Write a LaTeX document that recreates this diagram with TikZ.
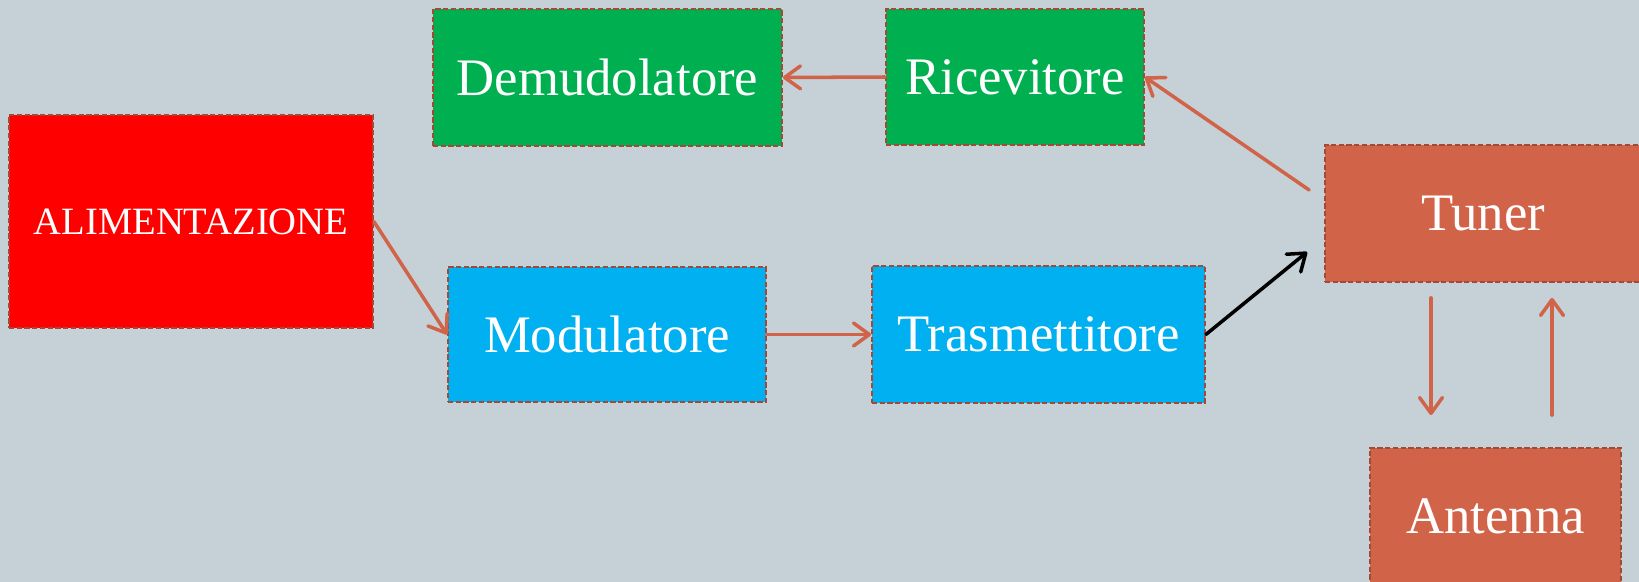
\documentclass[tikz,border=0pt]{standalone}
\usepackage{fontspec}
\setmainfont{Liberation Serif}
\usetikzlibrary{arrows.meta}
\definecolor{sfondo}{HTML}{C5D1D7}
\definecolor{verde}{HTML}{00B050}
\definecolor{azzurro}{HTML}{00B0F0}
\definecolor{rosso}{HTML}{FF0000}
\definecolor{mattone}{HTML}{D16349}
\definecolor{bordo}{HTML}{A34A37}
\begin{document}
\begin{tikzpicture}[
						boxnode/.style={rectangle, draw=bordo, line width=1pt, dash pattern=on 3pt off 1.4pt, text=white, inner sep=0pt, font=\fontsize{30}{36}\selectfont},
						arr/.style={draw=mattone, line width=2pt, line cap=round, -{Straight Barb[length=9pt,width=13pt,line width=2pt,round]}},
						]
						\fill[sfondo] (0,0) rectangle (32.78,-11.64);
						\useasboundingbox (0,0) rectangle (32.78,-11.64);
						%Nodes
						\node[boxnode, fill=rosso, minimum width=7.28cm, minimum height=4.26cm, font=\fontsize{22}{26}\selectfont]	(alim)	at	(3.82,-4.43)	{ALIMENTAZIONE};
						\node[boxnode, fill=verde, minimum width=6.98cm, minimum height=2.74cm]	(demod)	at	(12.15,-1.55)	{Demudolatore};
						\node[boxnode, fill=verde, minimum width=5.16cm, minimum height=2.72cm]	(ricev)	at	(20.30,-1.54)	{Ricevitore};
						\node[boxnode, fill=azzurro, minimum width=6.36cm, minimum height=2.70cm]	(modul)	at	(12.14,-6.69)	{Modulatore};
						\node[boxnode, fill=azzurro, minimum width=6.66cm, minimum height=2.74cm]	(trasm)	at	(20.77,-6.69)	{Trasmettitore};
						\node[boxnode, fill=mattone, minimum width=6.32cm, minimum height=2.74cm]	(tuner)	at	(29.66,-4.27)	{Tuner};
						\node[boxnode, fill=mattone, minimum width=5.02cm, minimum height=2.74cm]	(antenna)	at	(29.91,-10.33)	{Antenna};

						%Connectors
						\draw[arr] (ricev.west) -- (demod.east);
						\draw[arr] ([shift={(-0.3,0.47)}]tuner.west) -- (ricev.east);
						\draw[arr] (alim.east) -- (modul.west);
						\draw[arr] (modul.east) -- (trasm.west);
						\draw[arr, draw=black] (trasm.east) -- ([shift={(-0.34,-0.77)}]tuner.west);
						\draw[arr, shorten <=0.3cm, shorten >=0.64cm] ([xshift=-1.04cm]tuner.south) -- ([xshift=-1.29cm]antenna.north);
						\draw[arr, shorten <=0.64cm, shorten >=0.3cm] ([xshift=1.13cm]antenna.north) -- ([xshift=1.38cm]tuner.south);
					\end{tikzpicture}
\end{document}
